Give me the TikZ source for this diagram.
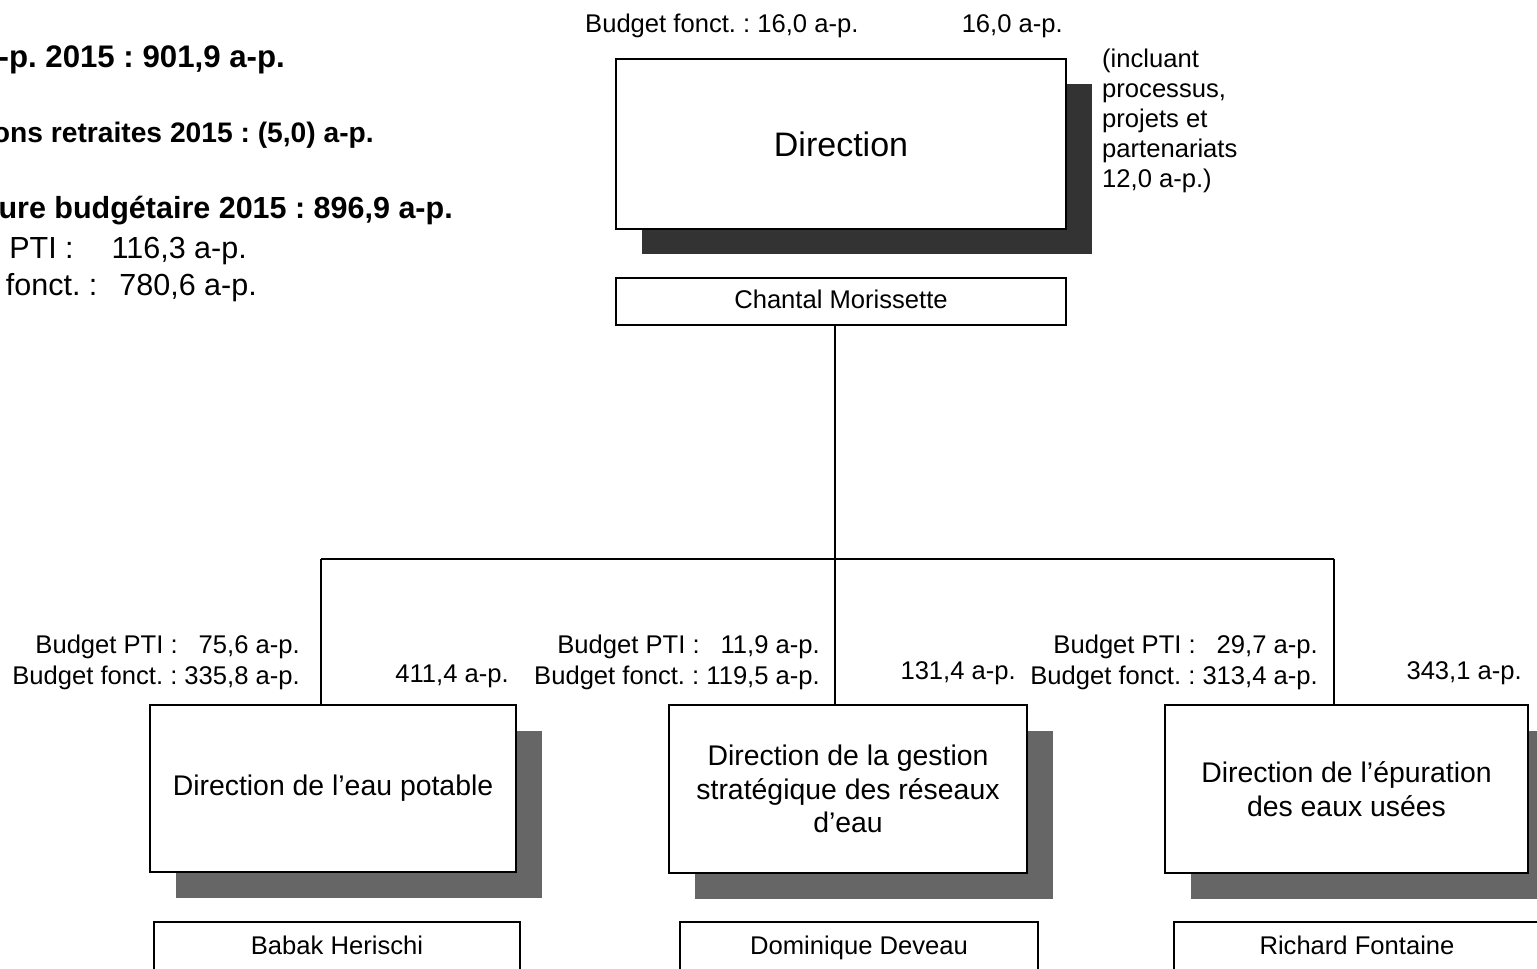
\documentclass[tikz,border=0pt]{standalone}
\usepackage{fontspec}
\setmainfont{Liberation Sans}
\usetikzlibrary{shadows}
\definecolor{shadowdark}{HTML}{333333}
\definecolor{shadowmid}{HTML}{666666}
\frenchspacing
\begin{document}
\begin{tikzpicture}[x=1pt,y=-1pt,
  box/.style={draw=black, line width=2pt, fill=white, inner sep=0pt, align=center,
    font=\fontsize{28.4}{33.5}\selectfont},
  namebox/.style={draw=black, line width=2pt, fill=white, inner sep=0pt,
    text height=19pt, text depth=5pt,
    font=\fontsize{25.6}{30}\selectfont},
  shadowA/.style={drop shadow={shadow xshift=26pt, shadow yshift=-25pt, fill=shadowdark, opacity=1}},
  shadowB/.style={drop shadow={shadow xshift=26pt, shadow yshift=-26pt, fill=shadowmid, opacity=1}},
  lbl/.style={inner sep=0pt, font=\fontsize{25.6}{30}\selectfont},
  biglbl/.style={inner sep=0pt, font=\fontsize{30.5}{36}\selectfont},
  bigbold/.style={inner sep=0pt, font=\fontsize{30.5}{36}\selectfont\bfseries},
  conn/.style={draw=black, line width=2pt}
]
\useasboundingbox (0,0) rectangle (1537,969);

% top-left summary (cut at the left edge)
\node[bigbold, anchor=base east, font=\fontsize{31.2}{36}\selectfont\bfseries] (s1) at (285,67) {-p. 2015 : 901,9 a-p.};
\node[bigbold, anchor=base east, font=\fontsize{28.2}{34}\selectfont\bfseries] (s2) at (374,142) {ons retraites 2015 : (5,0) a-p.};
\node[bigbold, anchor=base east] (s3) at (453,218) {ure budgétaire 2015 : 896,9 a-p.};
\node[biglbl, anchor=base east] (s4) at (247,258) {PTI :\hspace{38pt}116,3 a-p.};
\node[biglbl, anchor=base east] (s5) at (257,295) {fonct. :\hspace{22pt}780,6 a-p.};

% top: Direction
\node[lbl, anchor=base west] (topb) at (585,32) {Budget fonct. : 16,0 a-p.};
\node[lbl, anchor=base east] (topt) at (1063,32) {16,0 a-p.};
\node[box, shadowA, minimum width=450pt, minimum height=170pt,
  font=\fontsize{34}{40}\selectfont] (dir) at (841,144) {Direction};
\node[lbl, anchor=base west] (n1) at (1102,67) {(incluant};
\node[lbl, anchor=base west] (n2) at (1102,97) {processus,};
\node[lbl, anchor=base west] (n3) at (1102,127) {projets et};
\node[lbl, anchor=base west] (n4) at (1102,157) {partenariats};
\node[lbl, anchor=base west] (n5) at (1102,187) {12,0 a-p.)};
\node[namebox, minimum width=450pt, minimum height=47pt] (chantal) at (841,301.5) {Chantal Morissette};

% second level boxes
\node[box, shadowB, minimum width=366pt, minimum height=167pt] (eau) at (333,788.5) {Direction de l’eau potable};
\node[box, shadowB, minimum width=358pt, minimum height=168pt] (gest) at (848,789) {Direction de la gestion\\stratégique des réseaux\\d’eau};
\node[box, shadowB, minimum width=363pt, minimum height=168pt] (epur) at (1346.5,789) {Direction de l’épuration\\des eaux usées};

\node[namebox, minimum width=366pt, minimum height=50pt] (babak) at (337,947) {Babak Herischi};
\node[namebox, minimum width=358pt, minimum height=50pt] (dominique) at (859,947) {Dominique Deveau};
\node[namebox, minimum width=366pt, minimum height=50pt] (richard) at (1357,947) {Richard Fontaine};

% budget labels
\node[lbl, anchor=base east] (b1a) at (300,653) {Budget PTI :\hspace{21pt}75,6 a-p.};
\node[lbl, anchor=base east] (b1b) at (300,684) {Budget fonct. : 335,8 a-p.};
\node[lbl, anchor=base east] (t1) at (509,682) {411,4 a-p.};
\node[lbl, anchor=base east] (b2a) at (820,653) {Budget PTI :\hspace{21pt}11,9 a-p.};
\node[lbl, anchor=base east] (b2b) at (820,684) {Budget fonct. : 119,5 a-p.};
\node[lbl, anchor=base east] (t2) at (1016,679) {131,4 a-p.};
\node[lbl, anchor=base east] (b3a) at (1318,653) {Budget PTI :\hspace{21pt}29,7 a-p.};
\node[lbl, anchor=base east] (b3b) at (1318,684) {Budget fonct. : 313,4 a-p.};
\node[lbl, anchor=base east] (t3) at (1522,679) {343,1 a-p.};

% connectors
\coordinate (jc) at (835,559);
\coordinate (jl) at (321,559);
\coordinate (jr) at (1334,559);
\draw[conn] (jc |- chantal.south) -- (jc);
\draw[conn] (jl) -- (jr);
\draw[conn] (jl) -- (jl |- eau.north);
\draw[conn] (jc) -- (jc |- gest.north);
\draw[conn] (jr) -- (jr |- epur.north);
\end{tikzpicture}
\end{document}
